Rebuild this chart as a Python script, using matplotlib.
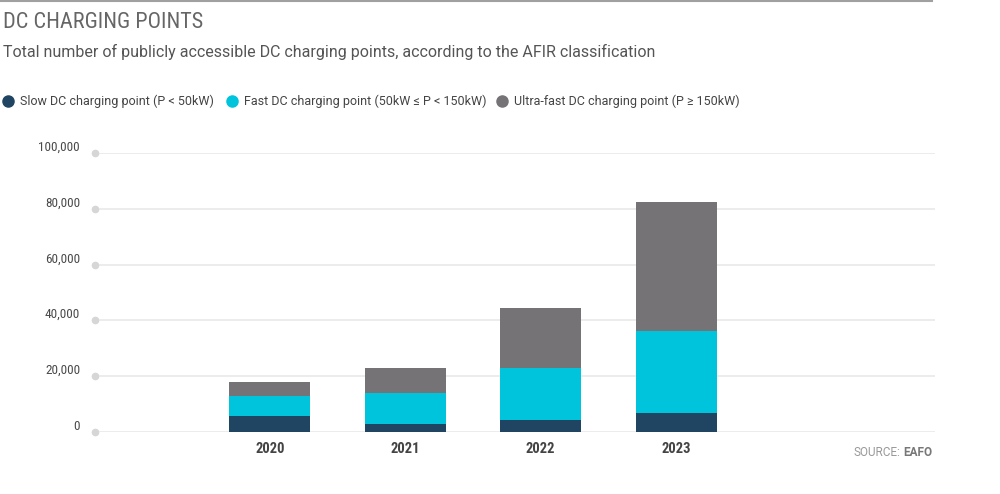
import matplotlib
matplotlib.use("Agg")
import matplotlib.pyplot as plt
from matplotlib.lines import Line2D

years = ["2020", "2021", "2022", "2023"]
slow = [5700, 2800, 4400, 6700]
fast = [7200, 11300, 18700, 29600]
ultra = [5000, 8800, 21300, 46000]
yticks = [0, 20000, 40000, 60000, 80000, 100000]
series_names = ["Slow DC charging point (P < 50kW)",
                "Fast DC charging point (50kW \u2264 P < 150kW)",
                "Ultra-fast DC charging point (P \u2265 150kW)"]
colors = ["#1f4563", "#00c3dc", "#767377"]

FONT = ["Roboto", "DejaVu Sans"]
COND = ["Roboto Condensed", "Liberation Sans Narrow", "Roboto", "DejaVu Sans"]
plt.rcParams["font.family"] = FONT

fig = plt.figure(figsize=(10, 4.94), dpi=100)
W, H = 1000, 494
ax = fig.add_axes([95 / W, 1 - 432 / H, (935 - 95) / W, (432 - 153) / H])

x = list(range(len(years)))
bottom = [0] * len(years)
for vals, c in zip([slow, fast, ultra], colors):
    ax.bar(x, vals, width=0.6, bottom=bottom, color=c, zorder=3)
    bottom = [b + v for b, v in zip(bottom, vals)]

ax.set_xlim(-1.29, 4.91)
ax.set_ylim(0, 100000)
for t in yticks:
    ax.axhline(t, color="#e9e9e9", lw=1.2, zorder=1, xmin=0.006)
    ax.plot([-1.29], [t], marker="o", ms=4.5, color="#d6d6d6", clip_on=False, zorder=2)
    ax.text(-1.29 - 0.11, t - 300, f"{t:,}", ha="right", va="bottom", fontsize=9.5,
            color="#4a4a4a", family=COND)
ax.set_yticks([])
ax.set_xticks([])
for s in ax.spines.values():
    s.set_visible(False)
for xi, yr in zip(x, years):
    ax.text(xi, -3500, yr, ha="center", va="top", fontsize=10.5, fontweight="bold",
            color="#444444", family=COND)

# top rule
fig.add_artist(Line2D([0, 932 / W], [1 - 1.5 / H, 1 - 1.5 / H], color="#a0a0a0", lw=1.5))

fig.text(3 / W, 1 - 22 / H, "DC CHARGING POINTS", fontsize=16, color="#666666", va="center", ha="left",
         family=COND)
fig.text(3 / W, 1 - 52 / H, "Total number of publicly accessible DC charging points, according to the AFIR classification",
         fontsize=11.5, color="#555555", va="center", ha="left")

leg_dots = [8, 232, 502]
for dx, name, c in zip(leg_dots, series_names, colors):
    fig.add_artist(Line2D([dx / W], [1 - 101 / H], marker="o", ms=8, color=c, ls="none"))
    fig.text((dx + 12) / W, 1 - 101 / H, name, fontsize=9, color="#444444", va="center", ha="left")

t1 = fig.text(932 / W, 1 - 452 / H, "EAFO", fontsize=8.5, fontweight="bold", color="#777777", ha="right", va="center")
fig.canvas.draw()
bb = t1.get_window_extent()
fig.text((bb.x0 - 2) / W, 1 - 452 / H, "SOURCE:", fontsize=8.5, color="#999999", ha="right", va="center")

fig.savefig("out.png", dpi=100)
